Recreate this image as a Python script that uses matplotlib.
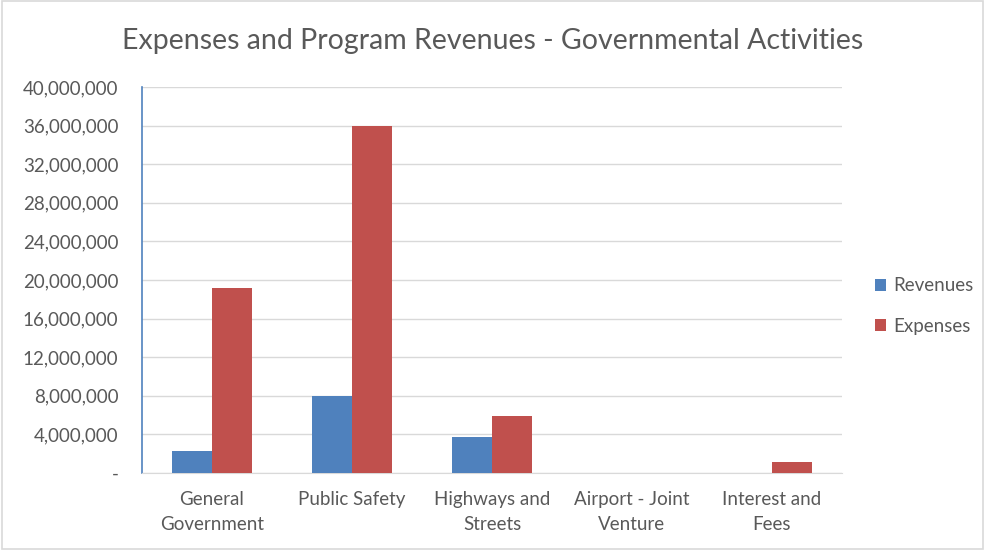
import matplotlib
matplotlib.use("Agg")
import matplotlib.pyplot as plt
import numpy as np
from matplotlib.ticker import FuncFormatter, MultipleLocator

categories = ["General\nGovernment", "Public Safety", "Highways and\nStreets", "Airport - Joint\nVenture", "Interest and\nFees"]
revenues = [2300000, 8000000, 3750000, 0, 0]
expenses = [19200000, 36000000, 5950000, 0, 1150000]

plt.rcParams['font.family'] = ['Lato', 'DejaVu Sans']

fig = plt.figure(figsize=(9.85, 5.5), dpi=100)
fig.patch.set_facecolor('white')
# outer border
fig.add_artist(plt.Rectangle((0.002, 0.002), 0.996, 0.996, transform=fig.transFigure,
                             fill=False, edgecolor='#D9D9D9', linewidth=1.2))

ax = fig.add_axes([142/985, 1-473/550, 700/985, 386/550])
x = np.arange(len(categories))
w = 1/3.5
ax.bar(x - w/2, revenues, w, color='#4F81BD', label='Revenues', zorder=3)
ax.bar(x + w/2, expenses, w, color='#C0504D', label='Expenses', zorder=3)

ax.set_xlim(-0.5, len(categories) - 0.5)
ax.set_ylim(0, 40000000)
ax.yaxis.set_major_locator(MultipleLocator(4000000))
ax.yaxis.set_major_formatter(FuncFormatter(lambda v, p: '-' if v == 0 else f"{int(v):,}"))
ax.grid(axis='y', color='#D9D9D9', linewidth=1, zorder=0)
ax.set_xticks(x)
ax.set_xticklabels(categories, linespacing=1.6)
ax.tick_params(axis='both', length=0, labelsize=13.5, labelcolor='#595959')
ax.tick_params(axis='y', pad=17)
ax.tick_params(axis='x', pad=13)
for lab in ax.get_yticklabels():
    lab.set_horizontalalignment('right')
for s in ['top', 'right']:
    ax.spines[s].set_visible(False)
ax.spines['left'].set_color('#4F81BD')
ax.spines['left'].set_linewidth(1.2)
ax.spines['bottom'].set_color('#D9D9D9')

fig.text(0.5, 1-41/550, "Expenses and Program Revenues - Governmental Activities",
         ha='center', va='center', fontsize=20.5, color='#595959')

leg = fig.legend(loc='center left', bbox_to_anchor=(858/985, 1-306/550), frameon=False,
                 fontsize=13.5, handlelength=0.6, handleheight=0.6, labelspacing=1.25,
                 handletextpad=0.4)
for t in leg.get_texts():
    t.set_color('#595959')

fig.savefig("out.png", dpi=100)
